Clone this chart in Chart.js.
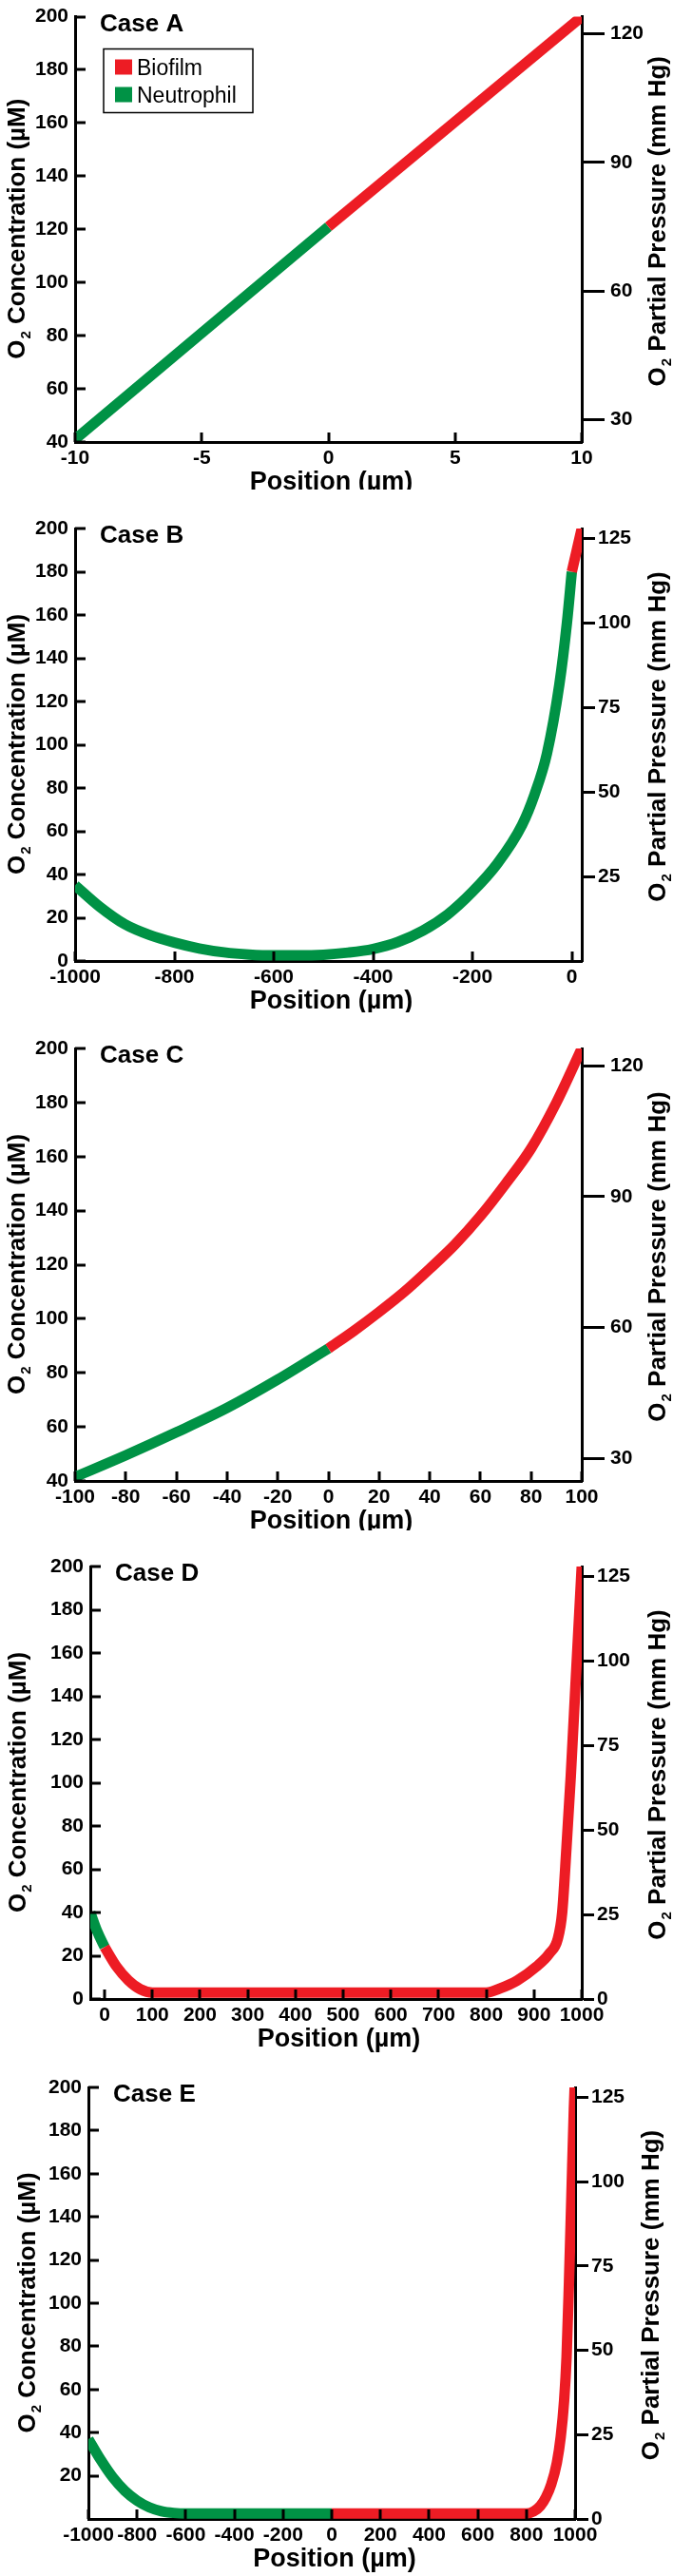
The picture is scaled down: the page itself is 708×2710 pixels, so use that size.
<!DOCTYPE html>
<html>
<head>
<meta charset="utf-8">
<title>O2 profiles, cases A-E</title>
<script src="https://cdn.jsdelivr.net/npm/chart.js@4.4.1/dist/chart.umd.min.js"></script>
<style>
  html, body { margin: 0; padding: 0; background: #fff; }
  #page { position: relative; width: 708px; height: 2710px; overflow: hidden; }
  .panel { position: absolute; left: 0; width: 708px; }
  .panel canvas { display: block; }
</style>
</head>
<body>
<div id="page"></div>
<script>
// ---- data ----

// Case A
const caseA_neutrophilX = [-10, 0];
const caseA_neutrophilY = [41, 121];
const caseA_biofilmX = [0, 10];
const caseA_biofilmY = [121, 200];
const caseA_xTicks = [-10, -5, 0, 5, 10];
const caseA_yTicks = [40, 60, 80, 100, 120, 140, 160, 180, 200];
const caseA_pTicks = [30, 60, 90, 120];

// Case B
const caseB_neutrophilX = [-1000, -950, -900, -850, -800, -750, -700, -650, -600, -550, -500, -450, -400, -350, -300, -250, -200, -150, -100, -75, -50, -25, -10, 0];
const caseB_neutrophilY = [35, 25, 17, 12, 8.5, 5.8, 4, 3, 2.6, 2.6, 2.9, 3.9, 5.6, 8.8, 14, 21.5, 32, 45, 63, 77, 96, 128, 156, 180];
const caseB_biofilmX = [0, 20];
const caseB_biofilmY = [180, 200];
const caseB_xTicks = [-1000, -800, -600, -400, -200, 0];
const caseB_yTicks = [0, 20, 40, 60, 80, 100, 120, 140, 160, 180, 200];
const caseB_pTicks = [25, 50, 75, 100, 125];

// Case C
const caseC_neutrophilX = [-100, -80, -60, -40, -20, 0];
const caseC_neutrophilY = [41.5, 49.5, 58, 67, 77.5, 89];
const caseC_biofilmX = [0, 10, 20, 30, 40, 50, 60, 70, 80, 90, 100];
const caseC_biofilmY = [89, 95.5, 102.5, 110, 118.5, 127.5, 138, 150, 163, 180, 200];
const caseC_xTicks = [-100, -80, -60, -40, -20, 0, 20, 40, 60, 80, 100];
const caseC_yTicks = [40, 60, 80, 100, 120, 140, 160, 180, 200];
const caseC_pTicks = [30, 60, 90, 120];

// Case D
const caseD_neutrophilX = [-30, -15, 0];
const caseD_neutrophilY = [40, 31, 24];
const caseD_biofilmX = [0, 25, 50, 75, 100, 200, 300, 400, 500, 600, 700, 800, 830, 865, 905, 932, 950, 959, 968, 977, 988, 1000];
const caseD_biofilmY = [24, 15, 8.6, 4.5, 3, 3, 3, 3, 3, 3, 3, 3, 5, 8.6, 15, 21, 28, 40, 70, 103, 150, 200];
const caseD_xTicks = [0, 100, 200, 300, 400, 500, 600, 700, 800, 900, 1000];
const caseD_yTicks = [0, 20, 40, 60, 80, 100, 120, 140, 160, 180, 200];
const caseD_pTicks = [0, 25, 50, 75, 100, 125];

// Case E
const caseE_neutrophilX = [-1000, -950, -900, -850, -800, -750, -700, -650, -600, -400, -200, 0];
const caseE_neutrophilY = [37, 27.5, 19.3, 13, 8.5, 5.4, 3.6, 2.8, 2.5, 2.5, 2.5, 2.5];
const caseE_biofilmX = [0, 200, 400, 600, 800, 830, 857, 880, 902, 925, 941, 955, 965, 975, 985, 995, 1000];
const caseE_biofilmY = [2.5, 2.5, 2.5, 2.5, 2.5, 3.5, 6, 10, 16, 26, 38, 55, 75, 110, 150, 190, 205];
const caseE_xTicks = [-1000, -800, -600, -400, -200, 0, 200, 400, 600, 800, 1000];
const caseE_yTicks = [20, 40, 60, 80, 100, 120, 140, 160, 180, 200];
const caseE_pTicks = [0, 25, 50, 75, 100, 125];

// ---- look ----
const W = 708;
const RED = '#ed1c24';
const GREEN = '#009245';
const FAMILY = '"Liberation Sans", Arial, Helvetica, sans-serif';
Chart.defaults.font.family = FAMILY;
Chart.defaults.color = '#000';

const panels = [
  { id: 'A', top: 0, height: 515, area: { left: 79, right: 612, top: 12, bottom: 465 },
    x: [-10, 10], y: [40, 200], factor: 0.62, rightTick: 24, legend: true, leftTitleX: 17,
    neutrophil: [caseA_neutrophilX, caseA_neutrophilY], biofilm: [caseA_biofilmX, caseA_biofilmY],
    xTicks: caseA_xTicks, yTicks: caseA_yTicks, pTicks: caseA_pTicks },
  { id: 'B', top: 515, height: 550, area: { left: 79, right: 612, top: 556, bottom: 1011 },
    x: [-1000, 20], y: [0, 200], factor: 0.64, rightTick: 14, legend: false, leftTitleX: 17,
    neutrophil: [caseB_neutrophilX, caseB_neutrophilY], biofilm: [caseB_biofilmX, caseB_biofilmY],
    xTicks: caseB_xTicks, yTicks: caseB_yTicks, pTicks: caseB_pTicks },
  { id: 'C', top: 1065, height: 545, area: { left: 79, right: 612, top: 1103, bottom: 1558 },
    x: [-100, 100], y: [40, 200], factor: 0.62, rightTick: 24, legend: false, leftTitleX: 17,
    neutrophil: [caseC_neutrophilX, caseC_neutrophilY], biofilm: [caseC_biofilmX, caseC_biofilmY],
    xTicks: caseC_xTicks, yTicks: caseC_yTicks, pTicks: caseC_pTicks },
  { id: 'D', top: 1610, height: 550, area: { left: 95, right: 612, top: 1648, bottom: 2103 },
    x: [-30, 1000], y: [0, 200], factor: 0.64, rightTick: 13, legend: false, leftTitleX: 18,
    neutrophil: [caseD_neutrophilX, caseD_neutrophilY], biofilm: [caseD_biofilmX, caseD_biofilmY],
    xTicks: caseD_xTicks, yTicks: caseD_yTicks, pTicks: caseD_pTicks },
  { id: 'E', top: 2160, height: 550, area: { left: 93, right: 605, top: 2196, bottom: 2650 },
    x: [-1000, 1000], y: [0, 200], factor: 0.64, rightTick: 14, legend: false, leftTitleX: 28,
    neutrophil: [caseE_neutrophilX, caseE_neutrophilY], biofilm: [caseE_biofilmX, caseE_biofilmY],
    xTicks: caseE_xTicks, yTicks: caseE_yTicks, pTicks: caseE_pTicks }
];

const toPoints = (xs, ys) => xs.map((x, i) => ({ x: x, y: ys[i] }));
const setTicks = (list) => (scale) => { scale.ticks = list.map(v => ({ value: v })); };
const tickFont = { size: 21, weight: 'bold', lineHeight: 1 };

// "O" + subscript 2 + rest, rotated to read bottom-to-top
function o2Title(ctx, rest, cx, cy, size) {
  ctx.save();
  ctx.translate(cx, cy);
  ctx.rotate(-Math.PI / 2);
  const big = 'bold ' + size + 'px ' + FAMILY;
  const small = 'bold ' + Math.round(size * 0.58) + 'px ' + FAMILY;
  ctx.font = big;
  const wO = ctx.measureText('O').width;
  const wRest = ctx.measureText(rest).width;
  ctx.font = small;
  const w2 = ctx.measureText('2').width;
  let x = -(wO + w2 + wRest) / 2;
  const base = size * 0.36;
  ctx.fillStyle = '#000';
  ctx.textAlign = 'left';
  ctx.textBaseline = 'alphabetic';
  ctx.font = big; ctx.fillText('O', x, base); x += wO;
  ctx.font = small; ctx.fillText('2', x + 1, base + size * 0.22); x += w2 + 1;
  ctx.font = big; ctx.fillText(rest, x, base);
  ctx.restore();
}

// inward ticks, case label, legend and axis titles
const panelDecor = {
  id: 'panelDecor',
  afterDraw(chart, args, opts) {
    const { ctx, chartArea: a } = chart;
    const xs = chart.scales.x, ys = chart.scales.y;
    ctx.save();
    ctx.strokeStyle = '#000';
    ctx.lineWidth = 3;
    ctx.lineCap = 'butt';
    ctx.beginPath();
    xs.ticks.forEach(t => {
      const px = Math.round(xs.getPixelForValue(t.value));
      ctx.moveTo(px, a.bottom);
      ctx.lineTo(px, a.bottom - 10);
    });
    ys.ticks.forEach(t => {
      const py = Math.round(ys.getPixelForValue(t.value));
      ctx.moveTo(a.left, py);
      ctx.lineTo(a.left + 11, py);
    });
    ctx.stroke();

    // case label
    ctx.fillStyle = '#000';
    ctx.textAlign = 'left';
    ctx.textBaseline = 'alphabetic';
    ctx.font = 'bold 26px ' + FAMILY;
    ctx.fillText('Case ' + opts.id, a.left + 26, a.top + 15);

    // legend (first panel only)
    if (opts.legend) {
      const bx = a.left + 30, by = a.top + 34;
      ctx.lineWidth = 1.5;
      ctx.strokeRect(bx, by, 157, 67);
      ctx.font = '23px ' + FAMILY;
      chart.data.datasets.forEach((ds, i) => {
        ctx.fillStyle = ds.borderColor;
        ctx.fillRect(bx + 12, by + 11 + i * 29, 18, 16);
        ctx.fillStyle = '#000';
        ctx.fillText(ds.label, bx + 35, by + 27 + i * 29);
      });
    }

    // axis titles
    const midY = (a.top + a.bottom) / 2;
    o2Title(ctx, ' Concentration (\u00b5M)', opts.leftTitleX, midY, 26);
    o2Title(ctx, ' Partial Pressure (mm Hg)', a.right + 79, midY - 8, 26);
    ctx.font = 'bold 27px ' + FAMILY;
    ctx.textAlign = 'center';
    ctx.fillStyle = '#000';
    ctx.fillText('Position (\u00b5m)', (a.left + a.right) / 2 + 3, a.bottom + 50);
    ctx.restore();
  }
};

const page = document.getElementById('page');

panels.forEach(p => {
  const holder = document.createElement('div');
  holder.className = 'panel';
  holder.style.top = p.top + 'px';
  holder.style.height = p.height + 'px';
  const canvas = document.createElement('canvas');
  canvas.width = W;
  canvas.height = p.height;
  holder.appendChild(canvas);
  page.appendChild(holder);

  const xAxisH = 40;
  const padTop = p.area.top - p.top;
  const padBottom = p.height - (p.area.bottom - p.top) - xAxisH;

  new Chart(canvas, {
    type: 'line',
    data: {
      datasets: [
        { label: 'Biofilm', data: toPoints(p.biofilm[0], p.biofilm[1]), borderColor: RED },
        { label: 'Neutrophil', data: toPoints(p.neutrophil[0], p.neutrophil[1]), borderColor: GREEN }
      ]
    },
    options: {
      responsive: false,
      animation: false,
      events: [],
      layout: { padding: { top: padTop, bottom: padBottom, left: 0, right: 0 } },
      datasets: {
        line: {
          borderWidth: 11,
          pointRadius: 0,
          fill: false,
          cubicInterpolationMode: 'monotone',
          borderCapStyle: 'butt',
          borderJoinStyle: 'round',
          clip: 0
        }
      },
      plugins: {
        legend: { display: false },
        tooltip: { enabled: false },
        panelDecor: { id: p.id, legend: p.legend, leftTitleX: p.leftTitleX }
      },
      scales: {
        x: {
          type: 'linear', position: 'bottom', min: p.x[0], max: p.x[1], z: 1,
          afterBuildTicks: setTicks(p.xTicks),
          afterFit: s => { s.height = xAxisH; },
          grid: { display: false, drawTicks: false },
          border: { display: true, color: '#000', width: 3 },
          ticks: { autoSkip: false, maxRotation: 0, minRotation: 0, padding: 7, color: '#000', font: tickFont, callback: v => String(v) }
        },
        y: {
          type: 'linear', position: 'left', min: p.y[0], max: p.y[1], z: 1,
          afterBuildTicks: setTicks(p.yTicks),
          afterFit: s => { s.width = p.area.left; },
          grid: { display: false, drawTicks: false },
          border: { display: true, color: '#000', width: 3 },
          ticks: { autoSkip: false, padding: 7, color: '#000', font: tickFont, callback: v => String(v) }
        },
        p: {
          type: 'linear', position: 'right', min: p.y[0] * p.factor, max: p.y[1] * p.factor, z: 1,
          afterBuildTicks: setTicks(p.pTicks),
          afterFit: s => { s.width = W - p.area.right; },
          grid: { display: true, drawOnChartArea: false, drawTicks: true, tickLength: p.rightTick, tickWidth: 3, tickColor: '#000' },
          border: { display: true, color: '#000', width: 3 },
          ticks: { autoSkip: false, padding: p.rightTick > 20 ? 6 : 3, color: '#000', font: tickFont, callback: v => String(v) }
        }
      }
    },
    plugins: [panelDecor]
  });
});
</script>
</body>
</html>
